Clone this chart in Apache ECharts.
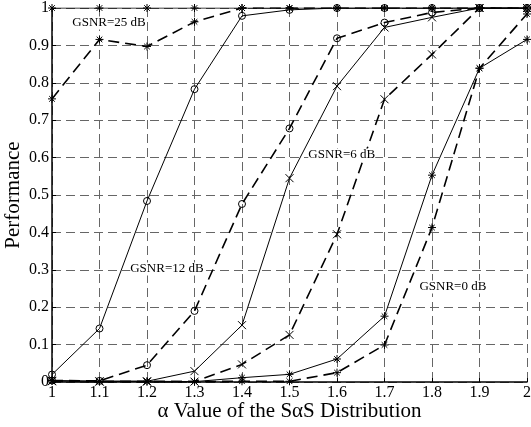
<!DOCTYPE html>
<html>
<head>
<meta charset="utf-8">
<script src="https://cdn.jsdelivr.net/npm/echarts@6/dist/echarts.min.js"></script>
<style>
html, body { margin: 0; padding: 0; background: #fff; }
#main { width: 531px; height: 427px; }
</style>
</head>
<body>
<div id="main"></div>
<script>
// alpha values on the x axis
let alpha = [1, 1.1, 1.2, 1.3, 1.4, 1.5, 1.6, 1.7, 1.8, 1.9, 2]

// performance, solid and dashed curve for every GSNR
let snr25Solid = [1, 1, 1, 1, 1, 1, 1, 1, 1, 1, 1]
let snr25Dash = [0.757, 0.916, 0.897, 0.963, 1, 1, 1, 1, 1, 1, 1]
let snr12Solid = [0.02, 0.143, 0.484, 0.783, 0.979, 0.995, 1, 1, 1, 1, 1]
let snr12Dash = [0.004, 0.003, 0.045, 0.19, 0.476, 0.678, 0.919, 0.961, 0.988, 1, 1]
let snr6Solid = [0.003, 0.002, 0.002, 0.029, 0.152, 0.545, 0.791, 0.948, 0.975, 1, 1]
let snr6Dash = [0.002, 0.001, 0.001, 0.001, 0.047, 0.126, 0.395, 0.756, 0.876, 1, 1]
let snr0Solid = [0.004, 0.002, 0.002, 0.001, 0.0115, 0.0205, 0.0615, 0.176, 0.553, 0.839, 0.916]
let snr0Dash = [0.003, 0.001, 0.001, 0.001, 0.002, 0.002, 0.025, 0.099, 0.413, 0.839, 0.984]

let labels = ['GSNR=25 dB', 'GSNR=12 dB', 'GSNR=6 dB', 'GSNR=0 dB']
let labelAt = [[1.12, 0.96], [1.242, 0.302], [1.61, 0.607], [1.844, 0.254]]

let star = 'path://M0,-1L0,1M-1,0L1,0M-0.7,-0.7L0.7,0.7M-0.7,0.7L0.7,-0.7'
let cross = 'path://M-1,-1L1,1M-1,1L1,-1'
let serif = 'Liberation Serif'

function curve (name, values, dashed, symbol) {
    return {
        name: name,
        type: 'line',
        data: values.map((v, i) => [alpha[i], v]),
        symbol: symbol,
        symbolSize: symbol === 'circle' ? 7 : 8,
        showAllSymbol: true,
        lineStyle: {
            color: '#000',
            width: dashed ? 1.6 : 1,
            type: dashed ? [11, 6] : 'solid',
        },
        itemStyle: {
            color: symbol === 'circle' ? 'none' : '#000',
            borderColor: '#000',
            borderWidth: 1,
        },
        emphasis: { disabled: true },
        animation: false,
        z: 3,
    }
}

let option = {
    backgroundColor: '#ffffff',
    grid: { left: 52, right: 4, top: 8, bottom: 45, containLabel: false, outerBoundsMode: 'none' },
    xAxis: {
        type: 'value',
        min: 1,
        max: 2,
        interval: 0.1,
        name: 'α Value of the SαS Distribution',
        nameLocation: 'middle',
        nameGap: 19,
        nameMoveOverlap: false,
        nameTextStyle: { fontFamily: serif, fontSize: 21, color: '#000' },
        axisLine: { show: true, lineStyle: { color: '#000', width: 1.5 } },
        axisTick: { show: true, inside: true, length: 4, lineStyle: { color: '#000' } },
        axisLabel: {
            fontFamily: serif, fontSize: 16, color: '#000', margin: 3,
            formatter: v => String(Math.round(v * 10) / 10),
        },
        splitLine: { show: true, lineStyle: { color: '#666', type: [9, 5], width: 1 } },
    },
    yAxis: {
        type: 'value',
        min: 0,
        max: 1,
        interval: 0.1,
        name: 'Performance',
        nameLocation: 'middle',
        nameGap: 28,
        nameMoveOverlap: false,
        nameTextStyle: { fontFamily: serif, fontSize: 21, color: '#000' },
        axisLine: { show: true, lineStyle: { color: '#000', width: 1.5 } },
        axisTick: { show: true, inside: true, length: 4, lineStyle: { color: '#000' } },
        axisLabel: {
            fontFamily: serif, fontSize: 16, color: '#000', margin: 3,
            formatter: v => String(Math.round(v * 10) / 10),
        },
        splitLine: { show: true, lineStyle: { color: '#666', type: [9, 5], width: 1 } },
    },
    series: [
        curve('25 solid', snr25Solid, false, star),
        curve('25 dash', snr25Dash, true, star),
        curve('12 solid', snr12Solid, false, 'circle'),
        curve('12 dash', snr12Dash, true, 'circle'),
        curve('6 solid', snr6Solid, false, cross),
        curve('6 dash', snr6Dash, true, cross),
        curve('0 solid', snr0Solid, false, star),
        curve('0 dash', snr0Dash, true, star),
    ],
}

let myChart = echarts.init(document.getElementById('main'))
myChart.setOption(option)

// text annotations placed in data coordinates
myChart.setOption({
    graphic: labels.map((t, i) => {
        let p = myChart.convertToPixel({ gridIndex: 0 }, labelAt[i])
        return {
            type: 'text',
            x: p[0],
            y: p[1],
            z: 10,
            style: {
                text: t,
                fill: '#000',
                font: '13px "Liberation Serif"',
                align: 'center',
                verticalAlign: 'middle',
                backgroundColor: '#fff',
            },
        }
    }),
})
</script>
</body>
</html>
